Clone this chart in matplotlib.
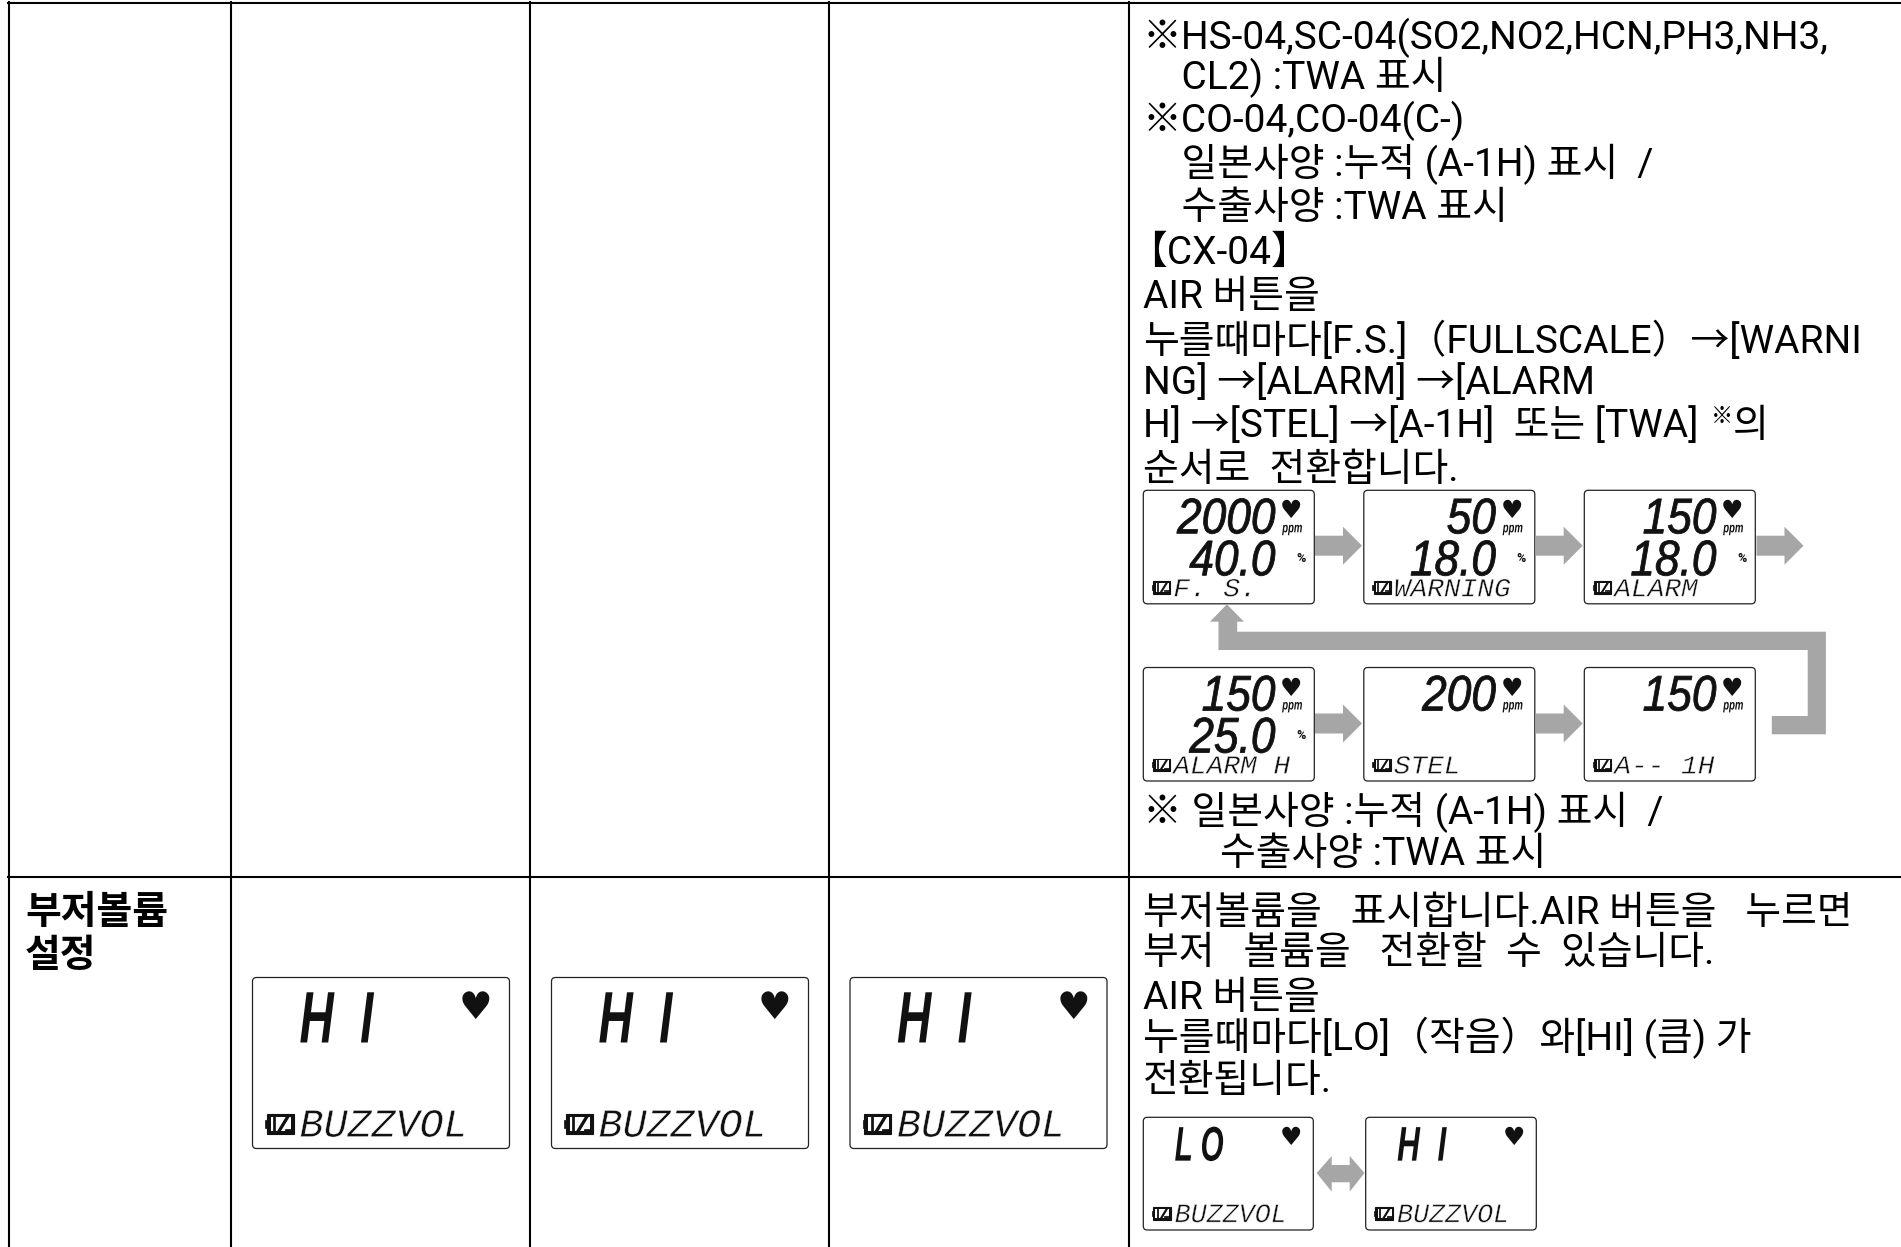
import matplotlib
matplotlib.use("Agg")
import matplotlib.pyplot as plt
from matplotlib.patches import FancyBboxPatch, Polygon, Rectangle
from matplotlib.patheffects import AbstractPathEffect
from matplotlib.transforms import Affine2D

plt.rcParams['font.family'] = ['Roboto', 'Noto Sans CJK KR', 'DejaVu Sans']

# text of the table
row_title = ["부저볼륨", "설정"]
notes_top = [
    "※HS-04,SC-04(SO2,NO2,HCN,PH3,NH3,",
    "    CL2) :TWA 표시",
    "※CO-04,CO-04(C-)",
    "    일본사양 :누적 (A-1H) 표시  /",
    "    수출사양 :TWA 표시",
    "【CX-04】",
    "AIR 버튼을",
    "누를때마다[F.S.]（FULLSCALE）→[WARNI",
    "NG] →[ALARM] →[ALARM",
    "H] →[STEL] →[A-1H]  또는 [TWA]",
    "순서로  전환합니다.",
]
notes_mid = ["※ 일본사양 :누적 (A-1H) 표시  /", "        수출사양 :TWA 표시"]
notes_buzz = [
    "부저볼륨을   표시합니다.AIR 버튼을   누르면",
    "부저   볼륨을   전환할  수  있습니다.",
    "AIR 버튼을",
    "누를때마다[LO]（작음）와[HI] (큼) 가",
    "전환됩니다.",
]

# what the LCD screens show
row1_top = ["2000", "50", "150"]
row1_low = ["40.0", "18.0", "18.0"]
row1_mode = ["F. S.", "WARNING", "ALARM"]
row2_top = ["150", "200", "150"]
row2_low = ["25.0", "", ""]
row2_mode = ["ALARM H", "STEL", "A-- 1H"]
buzz_value = "H  I"
buzz_low_value = "L O"
buzz_mode = "BUZZVOL"

GREY = "#a6a6a6"
INK = "#111111"
FS = 28


class Squeeze(AbstractPathEffect):
    # narrows a text horizontally round x0, lcd digits are very condensed
    def __init__(self, x0, sx, stroke=0, stroke_color="white"):
        super().__init__()
        self.x0, self.sx, self.stroke, self.stroke_color = x0, sx, stroke, stroke_color

    def draw_path(self, renderer, gc, tpath, affine, rgbFace=None):
        aff = affine + Affine2D().translate(-self.x0, 0).scale(self.sx, 1).translate(self.x0, 0)
        renderer.draw_path(gc, tpath, aff, rgbFace)
        if self.stroke:
            gc2 = renderer.new_gc()
            gc2.copy_properties(gc)
            gc2.set_foreground(self.stroke_color)
            gc2.set_linewidth(self.stroke)
            renderer.draw_path(gc2, tpath, aff, None)
            gc2.restore()


fig = plt.figure(figsize=(19.01, 12.47), dpi=100)
ax = fig.add_axes([0, 0, 1, 1])
ax.set_xlim(0, 1901)
ax.set_ylim(1247, 0)
ax.axis("off")


def lcd(x, y, s, px, sx, ha="left", family="Liberation Sans", weight="normal", stroke=0, stroke_color="white"):
    t = ax.text(x, y, s, fontsize=px * 0.72, family=family, style="italic", weight=weight,
                ha=ha, va="baseline", color=INK)
    t.set_path_effects([Squeeze(x, sx, stroke, stroke_color)])


def battery(x0, y0, x1, y1):
    h = y1 - y0
    w = x1 - x0
    ax.add_patch(Rectangle((x0 + 0.1 * h, y0), w - 0.1 * h, h, fc=INK, ec=INK, lw=0.8))
    ax.add_patch(Rectangle((x0, y0 + 0.3 * h), 0.12 * h, 0.4 * h, fc=INK, ec=INK, lw=0.5))
    ax.add_patch(Rectangle((x0 + 0.2 * w, y0 + 0.14 * h), 0.72 * w, 0.72 * h, fc="white", ec="none"))
    ax.plot([x0 + 0.33 * w, x0 + 0.33 * w], [y0 + 0.14 * h, y1 - 0.14 * h], color=INK, lw=h * 0.1)
    ax.plot([x0 + 0.5 * w, x0 + 0.8 * w], [y1 - 0.14 * h, y0 + 0.14 * h], color=INK, lw=h * 0.12)
    ax.plot([x0 + 0.72 * w, x0 + 0.92 * w], [y1 - 0.2 * h, y1 - 0.2 * h], color=INK, lw=h * 0.1)


def frame(x0, y0, x1, y1):
    ax.add_patch(FancyBboxPatch((x0, y0), x1 - x0, y1 - y0, boxstyle="round,pad=0,rounding_size=4",
                                fc="white", ec="#222222", lw=0.9, zorder=1))


def small_screen(x, y, top, low, mode):
    frame(x, y, x + 171, y + 113.5)
    lcd(x + 132, y + 43, top, 50, 0.885, ha="right", stroke=0.6, stroke_color=INK)
    if low:
        lcd(x + 132, y + 85, low, 50, 0.885, ha="right", stroke=0.6, stroke_color=INK)
        ax.text(x + 157.5, y + 68, "%", fontsize=9, weight="bold", ha="center", va="center", color=INK)
    ax.text(x + 148, y + 21, "♥", family="DejaVu Sans", fontsize=18, ha="center", va="center", color=INK)
    lcd(x + 149, y + 42, "ppm", 14, 0.68, ha="center", weight="bold")
    battery(x + 8.5, y + 91, x + 27, y + 103.5)
    lcd(x + 30, y + 106, mode, 26, 1.07, family="Liberation Mono", stroke=0.35)


def buzz_screen(x0, y0, x1, y1, value, sx, scale):
    # scale 1 is the big screen of the three middle columns
    frame(x0, y0, x1, y1)
    ax.text(x0 + (x1 - x0) * 0.868, y0 + 31.5 * scale, "♥", family="DejaVu Sans", fontsize=27 * scale,
            ha="center", va="center", color=INK)
    lcd(x0 + 47 * scale, y0 + 65 * scale, value, 73 * scale, sx, weight="bold")
    battery(x0 + 12.5 * scale, y1 - 34.5 * scale, x0 + 41 * scale, y1 - 15 * scale)
    lcd(x0 + 47 * scale, y1 - 11.8 * scale, buzz_mode, 40 * scale, 1.0, family="Liberation Mono", stroke=0.35)


def right_arrow(x, ymid):
    ax.add_patch(Polygon([(x, ymid - 10), (x + 28, ymid - 10), (x + 28, ymid - 19), (x + 47, ymid), (x + 28, ymid + 19),
                          (x + 28, ymid + 10), (x, ymid + 10)], fc=GREY, ec="none"))


# table lines
for x in [8.5, 230.5, 530, 829, 1129]:
    ax.plot([x, x], [1, 1247], color="black", lw=1.5, solid_capstyle="butt")
ax.plot([8, 1901], [2.5, 2.5], color="black", lw=1.5)
ax.plot([8, 1901], [876.5, 876.5], color="black", lw=1.5)

# row title and notes
top_base = [49, 89, 132, 176, 219, 264, 308, 353, 394, 437, 481]
mid_base = [824, 865]
buzz_base = [924, 964, 1009, 1050, 1092]
for y, s in zip([924, 967], row_title):
    ax.text(25, y, s, fontsize=FS, weight="bold", va="baseline", color="black")
for i, (y, s) in enumerate(zip(top_base, notes_top)):
    ax.text(1128 if i == 5 else 1143, y, s, fontsize=FS, va="baseline", color="black")
ax.text(1711, 423, "※", fontsize=16, va="baseline", color="black")
ax.text(1733, 437, "의", fontsize=FS, va="baseline", color="black")
for y, s in zip(mid_base, notes_mid):
    ax.text(1143, y, s, fontsize=FS, va="baseline", color="black")
for y, s in zip(buzz_base, notes_buzz):
    ax.text(1143, y, s, fontsize=FS, va="baseline", color="black")

# flow of screens
for i in range(3):
    small_screen(1143.3 + i * 220.5, 490.3, row1_top[i], row1_low[i], row1_mode[i])
    small_screen(1143.3 + i * 220.5, 667.5, row2_top[i], row2_low[i], row2_mode[i])

for x in [1315, 1535.7, 1756.5]:
    right_arrow(x, 545.7)
for x in [1315, 1535.7]:
    right_arrow(x, 723.5)
ax.add_patch(Polygon([(1771.8, 716), (1771.8, 734.3), (1825.9, 734.3), (1825.9, 631.7), (1237.2, 631.7),
                      (1237.2, 621.7), (1244, 621.7), (1226.9, 604.3), (1210, 621.7), (1218.5, 621.7),
                      (1218.5, 650), (1807.7, 650), (1807.7, 716)], fc=GREY, ec="none"))

# buzzer screens
for x in [252.5, 551.5, 850]:
    buzz_screen(x, 977.5, x + 257, 1148.5, buzz_value, 0.65, 1)
buzz_screen(1143.3, 1117.3, 1313.3, 1230, buzz_low_value, 0.61, 0.667)
buzz_screen(1365.7, 1117.3, 1536.3, 1230, buzz_value, 0.65, 0.667)
ax.add_patch(Polygon([(1316.7, 1173), (1331.7, 1156), (1331.7, 1165), (1349.7, 1165), (1349.7, 1156),
                      (1364.5, 1173), (1349.7, 1191.7), (1349.7, 1182.3), (1331.7, 1182.3), (1331.7, 1191.7)],
                     fc=GREY, ec="none"))

fig.savefig("out.png", dpi=100)
